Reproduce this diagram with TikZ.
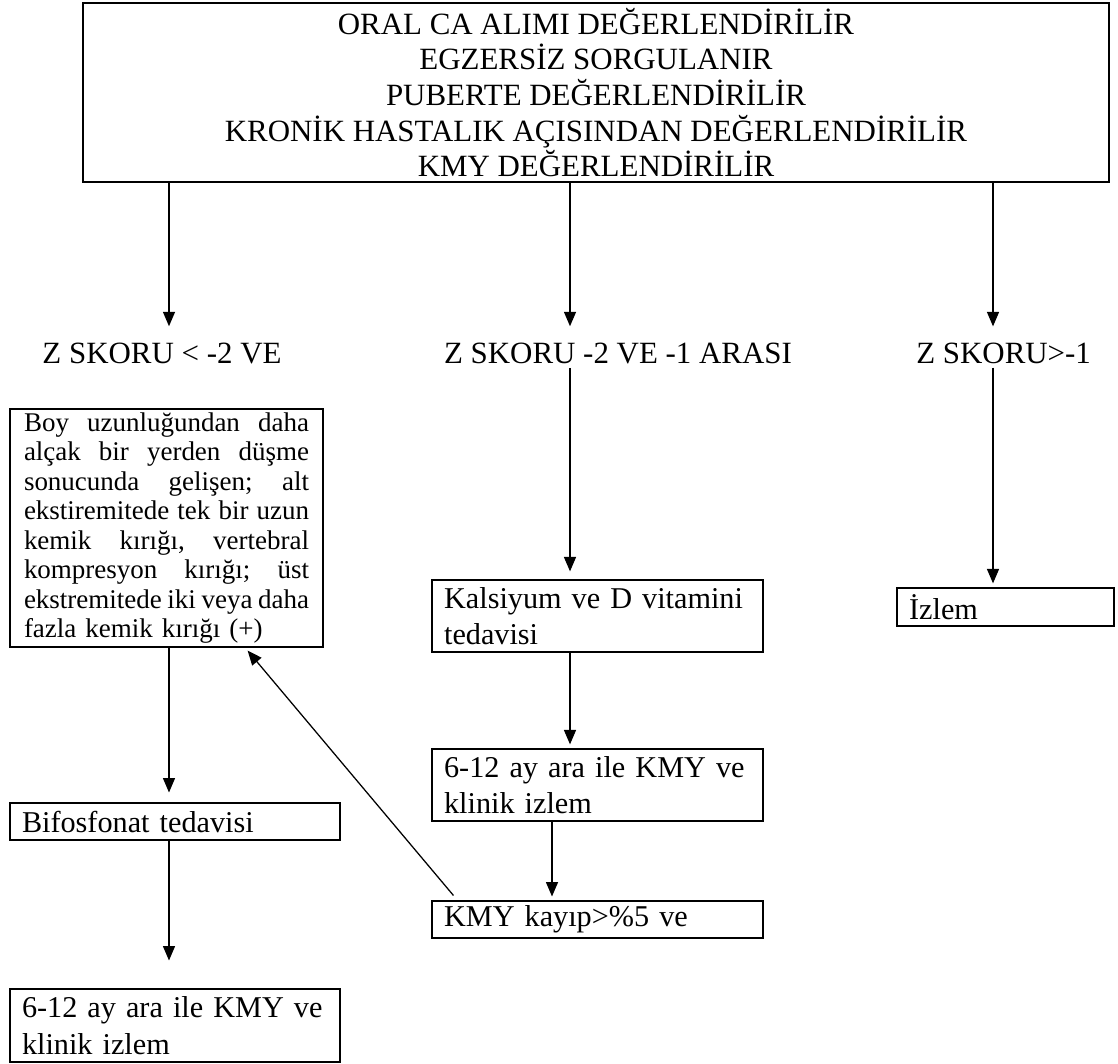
\documentclass[tikz,border=0pt]{standalone}
\usepackage{fontspec}
\setmainfont{Liberation Serif}
\usetikzlibrary{arrows.meta,positioning,calc}
\tikzset{
  mainbox/.style={draw, line width=0.9pt, align=center, inner sep=0pt,
    font=\fontsize{22}{25.4}\selectfont,
    minimum width=25.65cm, minimum height=4.475cm},
  zlabel/.style={font=\fontsize{22}{25}\selectfont, inner sep=0.1cm},
  stepbox/.style={draw, line width=0.9pt, align=left, inner xsep=0.3cm,
    inner ysep=0pt, font=\fontsize{21.5}{26}\selectfont},
  notebox/.style={draw, line width=0.9pt, inner xsep=0.35cm, inner ysep=0pt,
    text width=7.125cm, minimum height=5.95cm,
    font=\fontsize{19.2}{21}\selectfont},
  flow/.style={-{Triangle[length=0.36cm, width=0.3cm]}, line width=0.9pt},
}
\newcommand{\jline}[1]{\hbox to 7.125cm{#1}\par}

\begin{document}
\begin{tikzpicture}[x=1cm, y=1cm]
\useasboundingbox (0,0) rectangle (27.95,-26.575);

%% ── Assessment box ───────────────────────────────────────────────────────
\node[mainbox] (assess) at (14.9,-2.3125)
  {ORAL CA ALIMI DEĞERLENDİRİLİR\\EGZERSİZ SORGULANIR\\PUBERTE DEĞERLENDİRİLİR\\
   KRONİK HASTALIK AÇISINDAN DEĞERLENDİRİLİR\\KMY DEĞERLENDİRİLİR};

%% ── Z score branches ─────────────────────────────────────────────────────
\node[zlabel] (zlow)  at (4.05,-8.825)  {Z SKORU < -2 VE};
\node[zlabel] (zmid)  at (15.45,-8.825) {Z SKORU -2 VE -1 ARASI};
\node[zlabel] (zhigh) at (25.09,-8.825) {Z SKORU>-1};

\coordinate (colA) at (4.225,0);
\coordinate (colB) at (14.25,0);
\coordinate (colC) at (24.825,0);
\coordinate (colD) at (13.8,0);

\draw[flow, shorten >=0.3cm] (assess.south -| colA) -- (zlow.north -| colA);
\draw[flow, shorten >=0.3cm] (assess.south -| colB) -- (zmid.north -| colB);
\draw[flow, shorten >=0.3cm] (assess.south -| colC) -- (zhigh.north -| colC);

%% ── Left column ──────────────────────────────────────────────────────────
\node[notebox] (fracture) at (4.1625,-13.2) {%
  \jline{Boy\hfill uzunluğundan\hfill daha}
  \jline{alçak\hfill bir\hfill yerden\hfill düşme}
  \jline{sonucunda\hfill gelişen;\hfill alt}
  \jline{ekstiremitede\hfill tek\hfill bir\hfill uzun}
  \jline{kemik\hfill kırığı,\hfill vertebral}
  \jline{kompresyon\hfill kırığı;\hfill üst}
  \jline{ekstremitede\hfill iki\hfill veya\hfill daha}
  \hbox{fazla kemik kırığı (+)}};
\node[stepbox, text width=7.65cm, minimum height=0.925cm] (bisph)
  at (4.375,-20.54) {Bifosfonat tedavisi};
\node[stepbox, text width=7.65cm, minimum height=1.825cm] (followA)
  at (4.375,-25.64) {6-12 ay ara ile KMY ve\\klinik izlem};

\draw[flow, shorten >=0.25cm] (fracture.south -| colA) -- (bisph.north -| colA);
\draw[flow, shorten >=0.7cm] (bisph.south -| colA) -- (followA.north -| colA);

%% ── Middle column ────────────────────────────────────────────────────────
\node[stepbox, text width=7.675cm, minimum height=1.8cm] (calcium)
  at (14.94,-15.4) {Kalsiyum ve D vitamini\\tedavisi};
\node[stepbox, text width=7.675cm, minimum height=1.8cm] (followB)
  at (14.94,-19.625) {6-12 ay ara ile KMY ve\\klinik izlem};
\node[stepbox, text width=7.675cm, minimum height=0.925cm] (loss)
  at (14.94,-22.99) {KMY kayıp>\%5 ve};

\draw[flow, shorten >=0.2cm] (zmid.south -| colB) -- (calcium.north -| colB);
\draw[flow, shorten >=0.1cm] (calcium.south -| colB) -- (followB.north -| colB);
\draw[flow, shorten >=0.1cm] (followB.south -| colD) -- (loss.north -| colD);
\draw[flow] ([xshift=0.55cm, yshift=0.125cm]loss.north west)
  -- ([xshift=-1.9cm, yshift=-0.075cm]fracture.south east);

%% ── Right column ─────────────────────────────────────────────────────────
\node[stepbox, text width=4.825cm, minimum height=0.95cm] (watch)
  at (25.14,-15.175) {İzlem};

\draw[flow, shorten >=0.1cm] (zhigh.south -| colC) -- (watch.north -| colC);

\end{tikzpicture}
\end{document}
